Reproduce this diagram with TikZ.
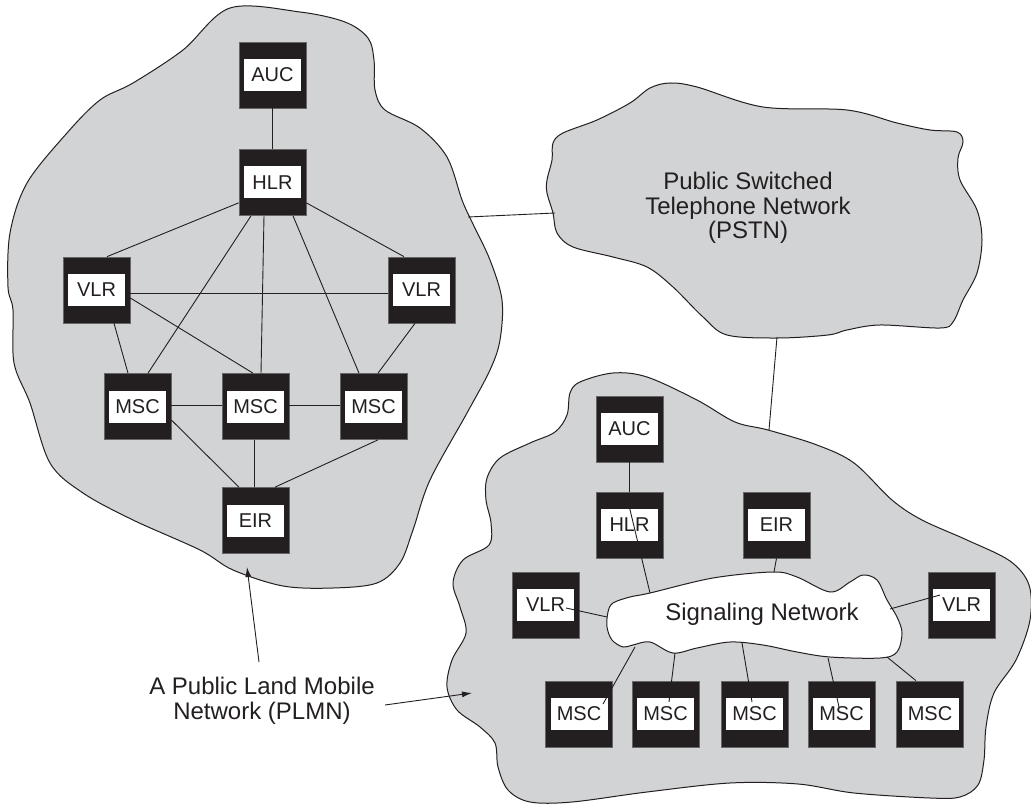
\documentclass[tikz,border=0pt]{standalone}
\usepackage{fontspec}
\setmainfont{Liberation Sans}
\usetikzlibrary{arrows.meta}
\definecolor{cloudgray}{RGB}{209,211,212}
\definecolor{boxblack}{RGB}{35,31,32}
\definecolor{ink}{RGB}{35,31,32}
\newcommand\netbox[3]{\node[blackbox] (#1) at (#2) {};\node[whitebox] (#1t) at (#1) {#3};}
\tikzset{
  cloudshape/.style={draw=ink, line width=1pt, fill=cloudgray},
  sigshape/.style={draw=ink, line width=1pt, fill=white},
  blackbox/.style={draw=black!60, line width=0.7pt, fill=boxblack, minimum width=67pt, minimum height=66pt, inner sep=0pt},
  whitebox/.style={fill=white, minimum width=57pt, minimum height=32pt, inner sep=0pt, text=ink, font=\fontsize{20}{24}\selectfont},
  link/.style={draw=ink, line width=0.9pt},
  bigtext/.style={text=ink, align=center, font=\fontsize{24}{24.5}\selectfont, inner sep=0pt},
  pointer/.style={draw=ink, line width=0.9pt, -{Latex[length=10pt,width=6pt]}}
}
\begin{document}
\begin{tikzpicture}[x=1pt,y=-1pt]
\useasboundingbox (0,0) rectangle (1031,805);

% ---------- clouds ----------
\draw[cloudshape] plot[smooth cycle, tension=0.55] coordinates {
 (230,8) (300,12) (345,22) (368,38) (374,60) (375,90) (385,110) (420,128)
 (447,157) (462,200) (472,222) (490,260) (502,300) (500,340) (490,370)
 (467,413) (430,480) (413,530) (400,563) (377,583) (333,588) (283,586)
 (233,570) (200,550) (133,520) (83,493) (50,463) (30,403) (14,363)
 (13,310) (8,287) (10,233) (27,183) (67,133) (100,100) (133,83) (183,50)};

\draw[cloudshape] plot[smooth cycle, tension=0.55] coordinates {
 (650,88) (670,83) (697,87) (763,107) (847,110) (897,123) (930,130)
 (957,132) (963,142) (958,158) (960,180) (977,210) (982,240) (977,273)
 (963,300) (953,322) (940,328) (880,325) (847,330) (828,335) (778,338)
 (727,335) (703,317) (673,287) (647,267) (613,257) (573,247) (557,233)
 (553,213) (547,193) (547,180) (552,160) (553,143) (563,133) (597,120)
 (630,103)};

\draw[cloudshape] plot[smooth cycle, tension=0.55] coordinates {
 (570,393) (580,382) (613,373) (647,377) (697,400) (735,422) (768,430)
 (817,445) (854,463) (892,500) (922,520) (967,540) (1010,561) (1029,585)
 (1030,620) (1016,660) (994,693) (986,727) (984,760) (978,785) (960,797)
 (930,798) (854,793) (798,784) (730,783) (647,792) (572,802) (530,802)
 (508,790) (498,767) (495,743) (480,727) (457,710) (447,687) (452,660)
 (466,633) (460,607) (453,583) (463,560) (489,545) (491,523) (486,500)
 (487,478) (500,458) (530,443) (555,432) (567,415)};

% edge points of the clouds
\coordinate (lcE) at (468,217);
\coordinate (pstnW) at (555,213);
\coordinate (pstnS) at (777,337);
\coordinate (rcN) at (769,430);

\draw[link] (lcE) -- (pstnW);
\draw[link] (pstnS) -- (rcN);

\node[bigtext] (pstn) at (748,208) {Public Switched\\Telephone Network\\(PSTN)};

% ---------- left PLMN ----------
\netbox{lAUC}{272.5,75}{AUC}
\netbox{lHLR}{272.5,182.5}{HLR}
\netbox{lVLRa}{96.5,290}{VLR}
\netbox{lVLRb}{421.5,290}{VLR}
\netbox{lMSC1}{137.5,406.5}{MSC}
\netbox{lMSC2}{255.5,406.5}{MSC}
\netbox{lMSC3}{373.5,406.5}{MSC}
\netbox{lEIR}{255.5,520.5}{EIR}

\draw[link] (lAUC.south) -- (lHLR.north);
\draw[link] ([yshift=13pt]lHLR.south west) -- ([xshift=10.5pt]lVLRa.north);
\draw[link] ([xshift=-21.5pt]lHLR.south) -- ([xshift=10.5pt]lMSC1.north);
\draw[link] ([xshift=-8.5pt]lHLR.south) -- ([xshift=5.5pt]lMSC2.north);
\draw[link] ([xshift=20.5pt]lHLR.south) -- ([xshift=-14.5pt]lMSC3.north);
\draw[link] ([yshift=13pt]lHLR.south east) -- ([xshift=-17.5pt]lVLRb.north);
\draw[link] ([yshift=-3pt]lVLRa.east) -- ([yshift=-3pt]lVLRb.west);
\draw[link] ([xshift=17.5pt]lVLRa.south) -- ([xshift=-9.5pt]lMSC1.north);
\draw[link] ([yshift=-8pt]lVLRa.east) -- ([xshift=-2.5pt]lMSC2.north);
\draw[link] ([xshift=-6.5pt]lVLRb.south) -- ([xshift=4.5pt]lMSC3.north);
\draw[link] ([yshift=1pt]lMSC1.east) -- ([yshift=1pt]lMSC2.west);
\draw[link] ([yshift=1pt]lMSC2.east) -- ([yshift=1pt]lMSC3.west);
\draw[link] ([yshift=-13.5pt]lMSC1.east) -- ([xshift=-16.5pt]lEIR.north);
\draw[link] ([xshift=-1.5pt]lMSC2.south) -- ([xshift=-1.5pt]lEIR.north);
\draw[link] ([xshift=4.5pt]lMSC3.south) -- ([xshift=19.5pt]lEIR.north);

% ---------- right PLMN ----------
\draw[sigshape] plot[smooth cycle, tension=0.55] coordinates {
 (650,593) (713,578) (773,572) (797,577) (830,592) (850,582) (863,575)
 (877,580) (887,600) (897,617) (902,633) (897,652) (880,658) (830,657)
 (797,652) (763,645) (730,642) (697,648) (673,653) (650,642) (633,645)
 (623,647) (612,640) (607,627) (608,612) (613,603) (630,597)};
\node[bigtext] (sig) at (762,614) {Signaling Network};

\netbox{rAUC}{629.5,429}{AUC}
\netbox{rHLR}{629.5,525}{HLR}
\netbox{rEIR}{776.5,525}{EIR}
\netbox{rVLRa}{545.5,605}{VLR}
\netbox{rVLRb}{961.5,605}{VLR}
\netbox{rM1}{579,714}{MSC}
\netbox{rM2}{665.5,714}{MSC}
\netbox{rM3}{754.5,714}{MSC}
\netbox{rM4}{841.5,714}{MSC}
\netbox{rM5}{930,714}{MSC}

% points on the signaling cloud
\coordinate (sHLR) at (650,593);
\coordinate (sEIR) at (774,572);
\coordinate (sVa) at (607,617);
\coordinate (sVb) at (890,609);
\coordinate (sM1) at (635,647);
\coordinate (sM2) at (675,653);
\coordinate (sM3) at (742,643);
\coordinate (sM4) at (828,658);
\coordinate (sM5) at (887,657);

\draw[link] (rAUC.south) -- (rHLR.north);
\draw[link] ([yshift=-16pt]rHLR.north) -- (sHLR);
\draw[link] (rEIR.south) -- (sEIR);
\draw[link] ([xshift=20.5pt,yshift=-3pt]rVLRa.center) -- (sVa);
\draw[link] ([xshift=-21.5pt,yshift=10pt]rVLRb.center) -- (sVb);
\draw[link] ([xshift=24pt,yshift=10pt]rM1.center) -- (sM1);
\draw[link] ([xshift=3.5pt,yshift=12pt]rM2.center) -- (sM2);
\draw[link] ([xshift=-2.5pt,yshift=12pt]rM3.center) -- (sM3);
\draw[link] ([xshift=-2.5pt,yshift=7pt]rM4.center) -- (sM4);
\draw[link] ([xshift=-14pt]rM5.north) -- (sM5);

% ---------- PLMN label ----------
\node[bigtext] (plmn) at (262,701) {A Public Land Mobile\\Network (PLMN)};
\coordinate (tailA) at (259,662);
\coordinate (tipA) at (247,567);
\coordinate (tailB) at (385,705);
\coordinate (tipB) at (472,693);
\draw[pointer] (tailA) -- (tipA);
\draw[pointer] (tailB) -- (tipB);
\end{tikzpicture}
\end{document}
